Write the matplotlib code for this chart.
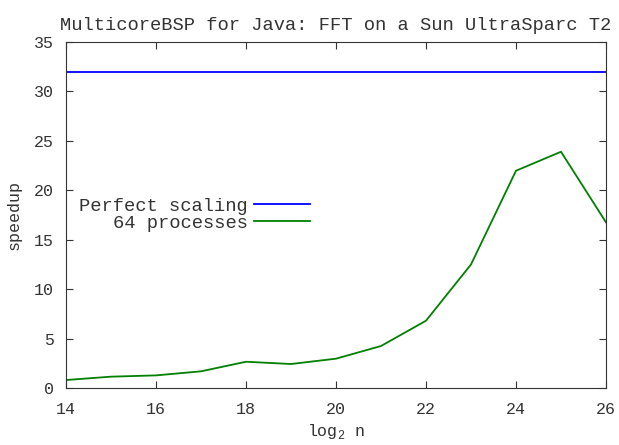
import matplotlib.pyplot as plt
import numpy as np

plt.rcParams['font.family'] = ['Liberation Mono', 'DejaVu Sans Mono']
plt.rcParams['mathtext.fontset'] = 'custom'
plt.rcParams['mathtext.rm'] = 'Liberation Mono'

log2n = [14, 15, 16, 17, 18, 19, 20, 21, 22, 23, 24, 25, 26]
speedup_64 = [0.81, 1.15, 1.28, 1.69, 2.66, 2.43, 2.97, 4.25, 6.81, 12.5, 21.98, 23.9, 16.76]
perfect = 32

fig = plt.figure(figsize=(6.19, 4.45), dpi=100)
ax = fig.add_axes([0.1066, 0.128, 0.8724, 0.7776])

ax.axhline(perfect, color='#0000ff', lw=1.3, label='Perfect scaling')
ax.plot(log2n, speedup_64, color='#008000', lw=1.3, label='64 processes')

ax.set_xlim(14, 26)
ax.set_ylim(0, 35)
ax.set_xticks(np.arange(14, 27, 2))
ax.set_yticks(np.arange(0, 36, 5))
ax.tick_params(direction='in', top=True, right=True, labelsize=12, length=5,
               colors='#333333', labelcolor='#333333')
ax.tick_params(axis='x', pad=10)
ax.tick_params(axis='y', pad=8.5)
for s in ax.spines.values():
    s.set_color('#333333')
    s.set_linewidth(0.8)

ax.set_title('MulticoreBSP for Java: FFT on a Sun UltraSparc T2', fontsize=13.5,
             color='#333333', pad=9)
ax.set_xlabel('log$_2$ n', fontsize=12, color='#333333', labelpad=4)
ax.set_ylabel('speedup', fontsize=12, color='#333333', labelpad=9)

leg = ax.legend(loc='center right', bbox_to_anchor=(0.452, 0.501), frameon=False,
                markerfirst=False, fontsize=13.5, handlelength=3.0,
                handletextpad=0.32, labelspacing=0.0, borderpad=0,
                borderaxespad=0)
for t in leg.get_texts():
    t.set_color('#333333')
# right-align labels
leg._legend_box.align = 'right'

fig.savefig('out.png', dpi=100)
